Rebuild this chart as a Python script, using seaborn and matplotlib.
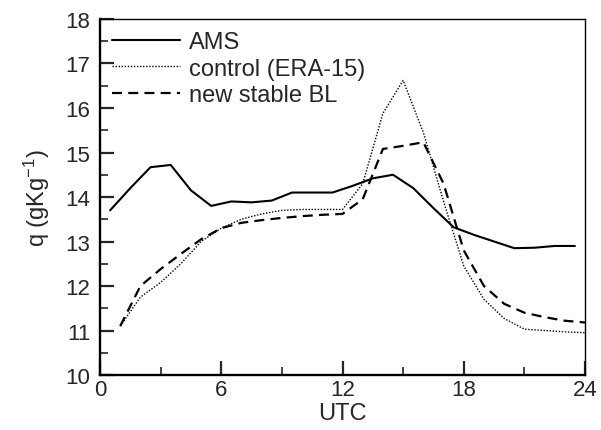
import numpy as np
import pandas as pd
import matplotlib
matplotlib.use("Agg")
import matplotlib.pyplot as plt
import seaborn as sns

## Daten
hours_ams = [0.5, 1.5, 2.5, 3.5, 4.5, 5.5, 6.5, 7.5, 8.5, 9.5, 10.5, 11.5,
             12.5, 13.5, 14.5, 15.5, 16.5, 17.5, 18.5, 19.5, 20.5, 21.5, 22.5, 23.5]
q_ams = [13.7, 14.2, 14.67, 14.72, 14.15, 13.8, 13.9, 13.88, 13.92, 14.1, 14.1, 14.1,
         14.25, 14.42, 14.5, 14.2, 13.75, 13.32, 13.15, 13.0, 12.85, 12.86, 12.9, 12.9]

hours_model = list(range(1, 25))
q_control = [11.1, 11.75, 12.08, 12.5, 13.0, 13.3, 13.5, 13.62, 13.7, 13.72, 13.72, 13.72,
             14.3, 15.88, 16.62, 15.45, 13.9, 12.45, 11.7, 11.27, 11.03, 11.0, 10.97, 10.95]
q_newbl = [11.1, 12.0, 12.38, 12.72, 13.05, 13.3, 13.42, 13.48, 13.53, 13.57, 13.6, 13.62,
           13.95, 15.08, 15.15, 15.23, 14.3, 12.8, 12.0, 11.6, 11.4, 11.3, 11.22, 11.18]

labels = ["AMS", "control (ERA-15)", "new stable BL"]

df_ams = pd.DataFrame({"UTC": hours_ams, "q": q_ams})
df_ctl = pd.DataFrame({"UTC": hours_model, "q": q_control})
df_new = pd.DataFrame({"UTC": hours_model, "q": q_newbl})

sns.set_style("ticks")
plt.rcParams["font.family"] = ["Liberation Sans", "DejaVu Sans"]
plt.rcParams["mathtext.default"] = "regular"

fs = 17
fig = plt.figure(figsize=(6.01, 4.31), dpi=100)
ax = fig.add_axes([0.1664, 0.1276, 0.807, 0.826])

sns.lineplot(data=df_ams, x="UTC", y="q", ax=ax, color="black", lw=1.5, label=labels[0])
sns.lineplot(data=df_ctl, x="UTC", y="q", ax=ax, color="black", lw=1.0,
             linestyle=(0, (1, 1.2)), label=labels[1])
sns.lineplot(data=df_new, x="UTC", y="q", ax=ax, color="black", lw=1.6,
             linestyle=(0, (4.5, 2.8)), label=labels[2])

ax.set_xlim(0, 24)
ax.set_ylim(10, 18)
ax.set_xticks([0, 6, 12, 18, 24])
ax.set_xticks([3, 9, 15, 21], minor=True)
ax.set_yticks(np.arange(10, 19, 1))
ax.set_yticks(np.arange(10.5, 18, 1), minor=True)
ax.tick_params(which="major", direction="in", length=10, width=1.6, labelsize=16,
               top=False, right=False)
ax.tick_params(axis="x", which="major", pad=3)
ax.tick_params(axis="y", which="major", pad=7)
ax.tick_params(which="minor", direction="in", length=6, width=1.2, top=False, right=False)
ax.set_xlabel("UTC", fontsize=fs, labelpad=1)
ax.set_ylabel("q (gKg$^{-1}$)", fontsize=fs, labelpad=10)

for s in ["left", "bottom"]:
    ax.spines[s].set_linewidth(1.7)
for s in ["top", "right"]:
    ax.spines[s].set_linewidth(1.0)
for s in ax.spines.values():
    s.set_color("black")

ax.legend(loc="upper left", frameon=False, fontsize=fs, handlelength=2.9,
          handletextpad=0.35, labelspacing=0.2, borderaxespad=0.2, borderpad=0.3)

fig.savefig("out.png", dpi=100)
